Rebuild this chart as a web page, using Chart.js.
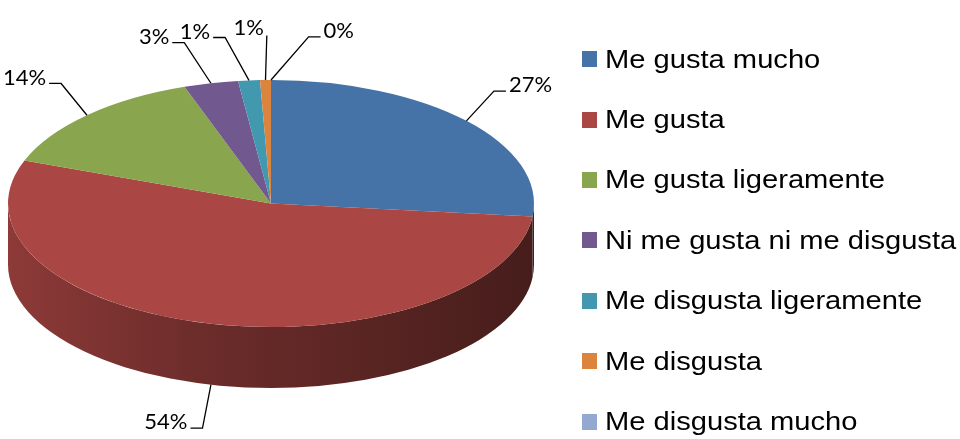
<!DOCTYPE html>
<html>
<head>
<meta charset="utf-8">
<script src="https://cdn.jsdelivr.net/npm/chart.js@4.4.0/dist/chart.umd.min.js"></script>
<style>
	html, body { margin: 0; padding: 0; background: #fff; }
	#wrap { position: relative; width: 960px; height: 439px; overflow: hidden; }
	#pie { position: absolute; left: 0; top: 0; }
	#legend { position: absolute; left: 582px; top: 29px; margin: 0; padding: 0; list-style: none; }
	#legend li { display: flex; align-items: center; height: 60.4px; white-space: nowrap; }
	#legend .box { width: 15px; height: 16px; margin-right: 8px; }
	#legend .txt { display: inline-block; font: 26px "Liberation Sans", Arial, sans-serif; color: #000;
		transform: scaleX(1.12); transform-origin: left center; }
</style>
</head>
<body>
<div id="wrap">
	<canvas id="pie" width="960" height="439"></canvas>
	<ul id="legend"></ul>
</div>
<script>
// categorias y respuestas
const categories = ["Me gusta mucho", "Me gusta", "Me gusta ligeramente", "Ni me gusta ni me disgusta",
	"Me disgusta ligeramente", "Me disgusta", "Me disgusta mucho"];
const answers = [40, 81, 21, 5, 2, 1, 0];
const sliceColors = ["#4572A7", "#AA4643", "#89A54E", "#71588F", "#4198AF", "#DB843D", "#93A9CF"];

const ELLIPSE_Y = 123.5 / 263;	// vertical squash of the pie top
const DEPTH = 61;				// thickness of the 3d side
const LABEL_RX = 300, LABEL_RY = 168, LABEL_GAP = 8;

function shade(hex, f) {
	let n = parseInt(hex.slice(1), 16);
	let r = Math.round(((n >> 16) & 255) * f);
	let g = Math.round(((n >> 8) & 255) * f);
	let b = Math.round((n & 255) * f);
	return "rgb(" + r + "," + g + "," + b + ")";
}

// side wall + squashed top face
const pie3d = {
	id: 'pie3d',
	beforeDatasetsDraw(chart) {
		let ctx = chart.ctx;
		let arcs = chart.getDatasetMeta(0).data;
		let cx = arcs[0].x, cy = arcs[0].y, r = arcs[0].outerRadius;
		let ry = r * ELLIPSE_Y;
		arcs.forEach(function(arc, i) {
			let a1 = Math.max(arc.startAngle, 0);
			let a2 = Math.min(arc.endAngle, Math.PI);
			if (a2 <= a1) return;
			let grad = ctx.createLinearGradient(cx - r, 0, cx + r, 0);
			grad.addColorStop(0, shade(sliceColors[i], 0.83));
			grad.addColorStop(0.35, shade(sliceColors[i], 0.64));
			grad.addColorStop(1, shade(sliceColors[i], 0.41));
			ctx.save();
			ctx.beginPath();
			ctx.ellipse(cx, cy, r, ry, 0, a1, a2);
			ctx.ellipse(cx, cy + DEPTH, r, ry, 0, a2, a1, true);
			ctx.closePath();
			ctx.fillStyle = grad;
			ctx.fill();
			ctx.restore();
		});
		ctx.save();
		ctx.translate(cx, cy);
		ctx.scale(1, ELLIPSE_Y);
		ctx.translate(-cx, -cy);
	},
	afterDatasetsDraw(chart) {
		chart.ctx.restore();
	}
};

// porcentajes con lineas guia
const pieLabels = {
	id: 'pieLabels',
	afterDraw(chart) {
		let ctx = chart.ctx;
		let arcs = chart.getDatasetMeta(0).data;
		let total = answers.reduce((a, b) => a + b, 0);
		let cx = arcs[0].x, cy = arcs[0].y, r = arcs[0].outerRadius;
		let ry = r * ELLIPSE_Y;

		let items = arcs.map(function(arc, i) {
			let mid = (arc.startAngle + arc.endAngle) / 2;
			return { i: i, mid: mid, deg: (mid + Math.PI / 2) * 180 / Math.PI };
		});
		// separar las etiquetas pequeñas
		let order = items.slice().sort((a, b) => a.deg - b.deg);
		for (let it = 0; it < 60; it++) {
			for (let j = 1; j < order.length; j++) {
				let gap = order[j].deg - order[j - 1].deg;
				if (gap < LABEL_GAP) {
					let p = (LABEL_GAP - gap) / 2;
					order[j - 1].deg -= p;
					order[j].deg += p;
				}
			}
		}

		ctx.save();
		ctx.strokeStyle = "#000";
		ctx.lineWidth = 1.3;
		ctx.fillStyle = "#000";
		ctx.font = "22px Lato, 'Open Sans', sans-serif";
		items.forEach(function(item) {
			let front = Math.sin(item.mid) > 0;
			let base = front ? cy + DEPTH : cy;
			let ax = cx + r * Math.cos(item.mid);
			let ay = base + ry * Math.sin(item.mid);
			let t = item.deg * Math.PI / 180;
			let s = Math.sin(t);
			let px = cx + LABEL_RX * s;
			let py = base - LABEL_RY * Math.cos(t);
			let dir = s >= 0 ? 1 : -1;
			let text = Math.round(answers[item.i] / total * 100) + "%";

			ctx.beginPath();
			ctx.moveTo(ax, ay);
			ctx.lineTo(px, py);
			if (Math.abs(s) > 0.12) {
				let ex = px + dir * 12;
				ctx.lineTo(ex, py);
				ctx.stroke();
				ctx.textAlign = dir > 0 ? "left" : "right";
				ctx.textBaseline = "middle";
				ctx.fillText(text, ex + dir * 3, py - 6);
			} else {
				ctx.stroke();
				ctx.textAlign = dir > 0 ? "left" : "right";
				ctx.textBaseline = "bottom";
				ctx.fillText(text, px + dir * 3, py + 3);
			}
		});
		ctx.restore();
	}
};

// leyenda html
const htmlLegend = {
	id: 'htmlLegend',
	afterUpdate(chart) {
		let ul = document.getElementById("legend");
		ul.innerHTML = "";
		let items = chart.options.plugins.legend.labels.generateLabels(chart);
		items.forEach(function(item) {
			let li = document.createElement("li");
			let box = document.createElement("span");
			box.className = "box";
			box.style.background = item.fillStyle;
			let txt = document.createElement("span");
			txt.className = "txt";
			txt.textContent = item.text;
			li.appendChild(box);
			li.appendChild(txt);
			ul.appendChild(li);
		});
	}
};

let ctx = document.getElementById("pie").getContext("2d");
let pieChart = new Chart(ctx, {
	type: 'pie',
	data: {
		labels: categories,
		datasets: [{
			data: answers,
			backgroundColor: sliceColors,
			borderWidth: 0,
			clip: false
		}]
	},
	options: {
		responsive: false,
		animation: false,
		radius: 263,
		layout: {
			padding: { left: 0, right: 418, top: 0, bottom: 32 }
		},
		plugins: {
			legend: { display: false },
			tooltip: { enabled: false }
		}
	},
	plugins: [pie3d, pieLabels, htmlLegend]
});
</script>
</body>
</html>
